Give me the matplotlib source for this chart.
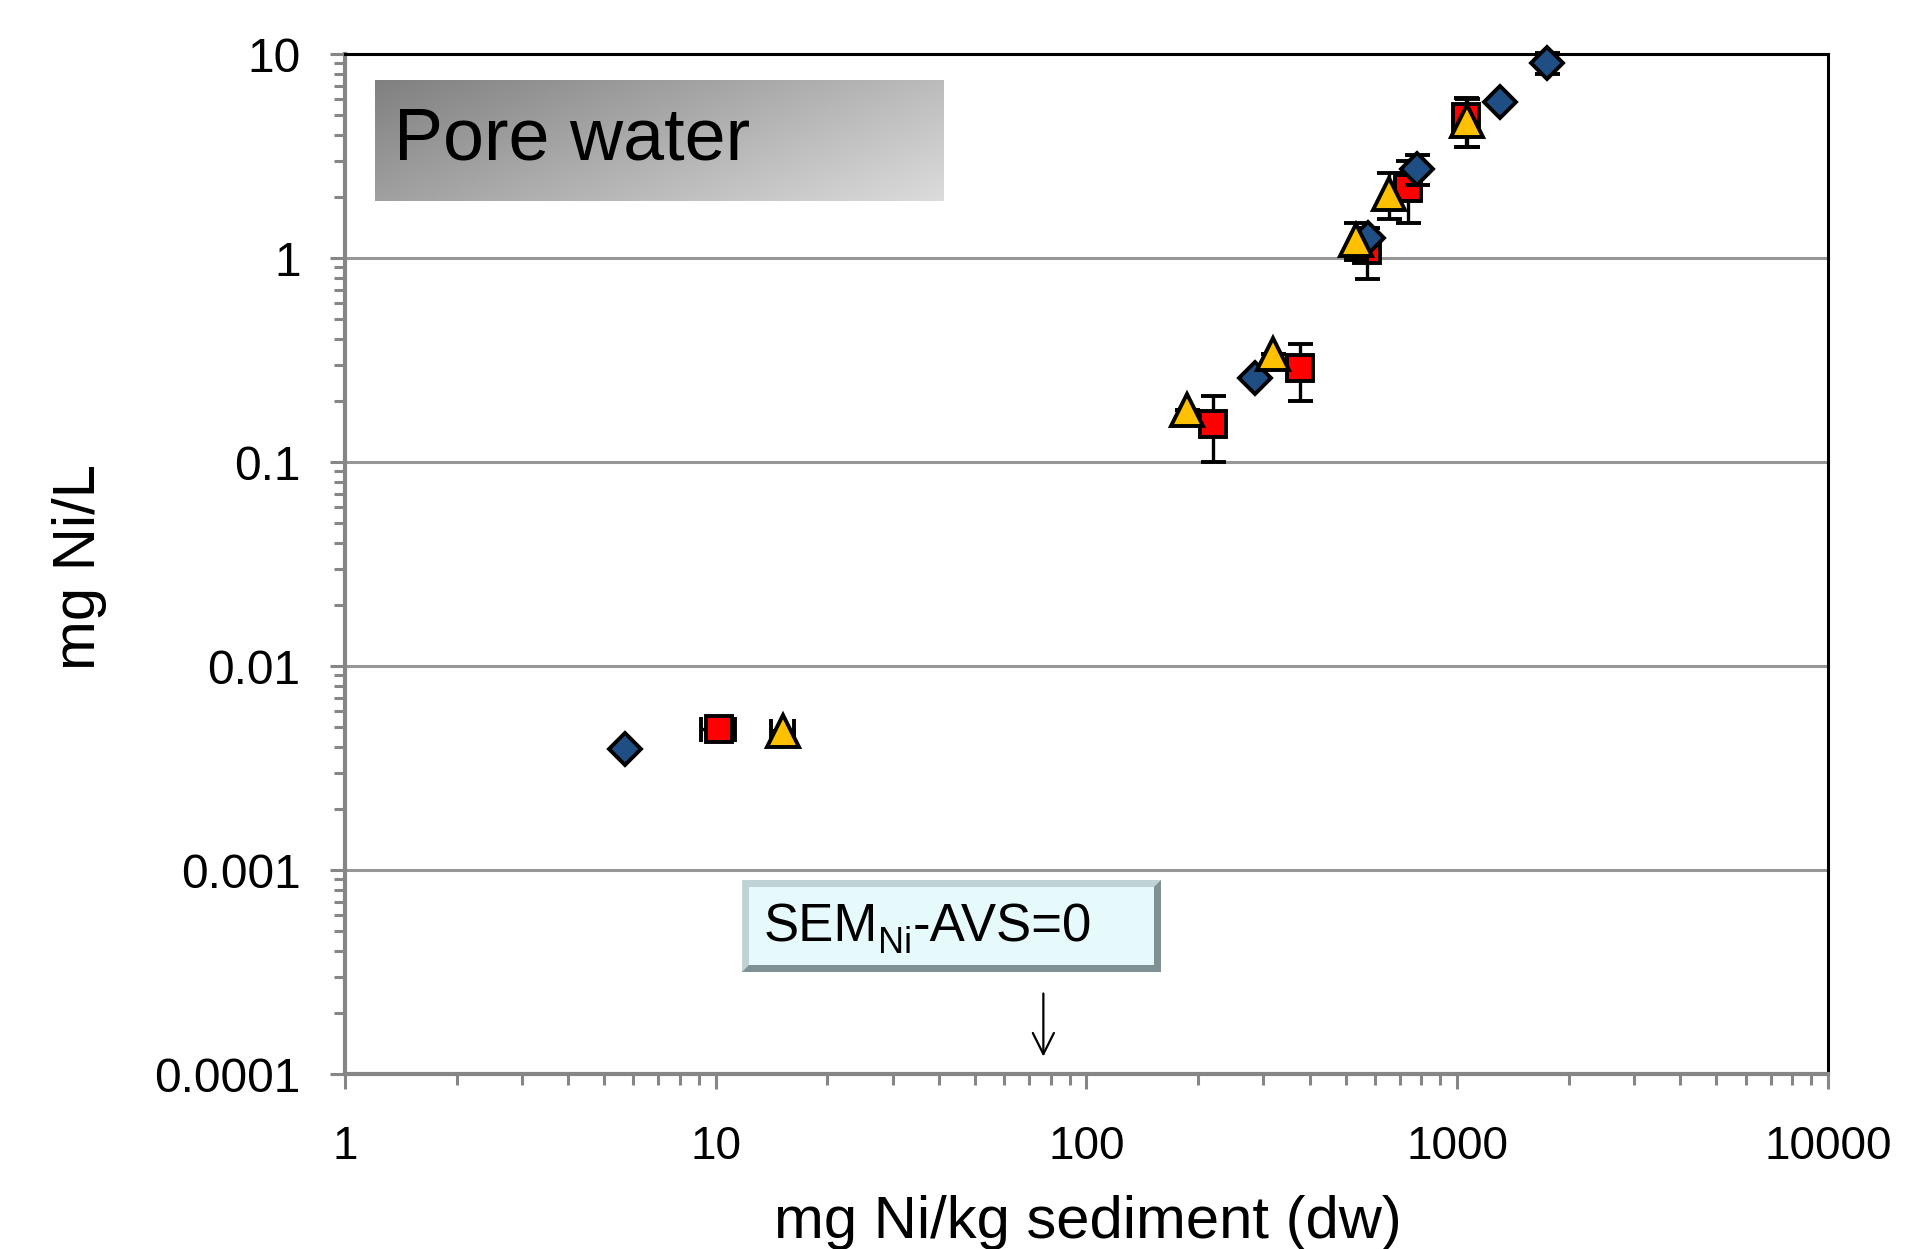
import numpy as np
import matplotlib
matplotlib.use("Agg")
from matplotlib import pyplot as plt
from matplotlib.patches import Rectangle, Polygon
from matplotlib.ticker import FixedLocator, LogLocator, NullFormatter, FuncFormatter

plt.rcParams['font.family'] = ['Liberation Sans', 'DejaVu Sans']

# values (mg Ni/kg sediment, mg Ni/L)
blue_x = [5.7, 285, 576, 777, 1307, 1749]
blue_y = [0.0039, 0.258, 1.26, 2.74, 5.8, 9.07]
blue_err = [0, 0, 0.05, 0.45, 0, 1.1]

red_x = [10.2, 220, 376, 572, 736, 1055]
red_y = [0.0049, 0.154, 0.288, 1.1, 2.2, 4.92]
red_err_lo = [0, 0.054, 0.09, 0.315, 0.71, 1.42]
red_err_hi = [0, 0.056, 0.092, 0.30, 0.80, 1.14]
red_xerr = [1.1, 0, 0, 0, 0, 0]

yellow_x = [15.2, 187, 318, 534, 656, 1063]
yellow_y = [0.0048, 0.18, 0.34, 1.22, 2.05, 4.7]
yellow_err_lo = [0, 0, 0, 0.24, 0.50, 1.2]
yellow_err_hi = [0, 0, 0, 0.27, 0.55, 1.3]
yellow_xerr = [1.1, 0, 0, 0, 0, 0]

x_ticks = [1, 10, 100, 1000, 10000]
y_ticks = [0.0001, 0.001, 0.01, 0.1, 1, 10]
y_tick_labels = ['0.0001', '0.001', '0.01', '0.1', '1', '10']

gray = '#868686'
W, H = 1932, 1249

fig = plt.figure(figsize=(W / 100, H / 100), dpi=100)
ax = fig.add_axes([0.17857, 0.14011, 0.76760, 0.81665])
ax.set_xscale('log')
ax.set_yscale('log')
ax.set_xlim(1, 10000)
ax.set_ylim(0.0001, 10)

ax.yaxis.grid(True, which='major', color='#979797', lw=2.2, zorder=0)
ax.set_axisbelow(True)

ebkw = dict(linestyle='none', ecolor='black', elinewidth=2.4, capsize=9,
            capthick=2.6, markeredgecolor='black', markeredgewidth=2.8,
            clip_on=False)
ax.errorbar(red_x, red_y, yerr=[red_err_lo, red_err_hi], xerr=red_xerr,
            marker='s', markersize=19, markerfacecolor='#ff0000', zorder=3, **ebkw)
ax.errorbar(blue_x, blue_y, yerr=blue_err, marker='D', markersize=16.5,
            markerfacecolor='#1f4e85', zorder=4, **ebkw)
ax.errorbar(yellow_x, yellow_y, yerr=[yellow_err_lo, yellow_err_hi],
            xerr=yellow_xerr, marker='^', markersize=23,
            markerfacecolor='#ffc000', zorder=5, **ebkw)

ax.xaxis.set_major_locator(FixedLocator(x_ticks))
ax.xaxis.set_major_formatter(FuncFormatter(lambda v, p: f'{v:g}'))
ax.xaxis.set_minor_locator(LogLocator(base=10, subs=np.arange(2, 10)))
ax.xaxis.set_minor_formatter(NullFormatter())
ax.set_yticks(y_ticks)
ax.set_yticklabels(y_tick_labels)
ax.yaxis.set_minor_locator(LogLocator(base=10, subs=np.arange(2, 10)))
ax.yaxis.set_minor_formatter(NullFormatter())

ax.tick_params(which='major', direction='out', length=11, width=2.2,
               color=gray)
ax.tick_params(axis='x', which='major', pad=26, labelsize=33)
ax.tick_params(axis='y', which='major', pad=21, labelsize=34.5)
ax.tick_params(which='minor', direction='out', length=8, width=2.2, color=gray)

for side in ['left', 'bottom']:
    ax.spines[side].set_color(gray)
    ax.spines[side].set_linewidth(3)
for side in ['top', 'right']:
    ax.spines[side].set_color('black')
    ax.spines[side].set_linewidth(2.2)

fig.text(0.5632, 0.0088, 'mg Ni/kg sediment (dw)', fontsize=43,
         ha='center', va='baseline')
fig.text(0.0414, 0.546, 'mg Ni/L', fontsize=43, rotation=90,
         ha='center', va='center')

# arrow pointing at the SEM-AVS=0 value
ax.annotate('', xy=(76.5, 0.000118), xytext=(76.5, 0.000256),
            arrowprops=dict(arrowstyle='->', color='black', lw=1.6,
                            mutation_scale=38))

# grey gradient label box
gax = fig.add_axes([0.1941, 0.839, 0.2945, 0.0969])
gx, gy = np.meshgrid(np.linspace(0, 1, 300), np.linspace(0, 1, 100))
grad = 0.50 + 0.36 * (0.65 * gx + 0.35 * gy)
gax.imshow(grad, cmap='gray', vmin=0, vmax=1, aspect='auto',
           extent=[0, 1, 0, 1], origin='upper')
gax.set_axis_off()
fig.text(0.2039, 0.888, 'Pore water', fontsize=53, ha='left', va='center')

# bevelled cyan box
x0, x1 = 742 / W, 1161 / W
y0, y1 = 1 - 972 / H, 1 - 880 / H
bw, bh = 7 / W, 7 / H
fig.patches.append(Rectangle((x0, y0), x1 - x0, y1 - y0, transform=fig.transFigure,
                             facecolor='#7f9192', edgecolor='none', zorder=5))
fig.patches.append(Polygon([(x0, y1), (x1, y1), (x1 - bw, y1 - bh), (x0 + bw, y1 - bh),
                            (x0 + bw, y0 + bh), (x0, y0)], closed=True,
                           transform=fig.transFigure, facecolor='#bfd2d4',
                           edgecolor='none', zorder=5))
fig.patches.append(Rectangle((x0 + bw, y0 + bh), x1 - x0 - 2 * bw, y1 - y0 - 2 * bh,
                             transform=fig.transFigure, facecolor='#e6fafc',
                             edgecolor='none', zorder=6))

# SEM_Ni-AVS=0, subscript placed by hand
renderer = fig.canvas.get_renderer()
base = 1 - 942 / H
t1 = fig.text(764 / W, base, 'SEM', fontsize=38, ha='left', va='baseline', zorder=7)
e1 = t1.get_window_extent(renderer)
t2 = fig.text(e1.x1 / W, base - 11 / H, 'Ni', fontsize=26, ha='left',
              va='baseline', zorder=7)
e2 = t2.get_window_extent(renderer)
fig.text(e2.x1 / W, base, '-AVS=0', fontsize=38, ha='left', va='baseline', zorder=7)

fig.savefig('out.png', dpi=100)
